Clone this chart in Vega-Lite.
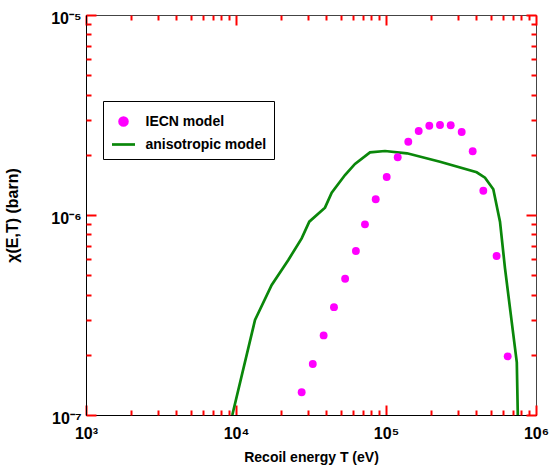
{
  "$schema": "https://vega.github.io/schema/vega-lite/v6.json",
  "width": 450,
  "height": 400,
  "autosize": {"type": "none"},
  "padding": {"left": 86, "top": 15, "right": 13, "bottom": 57},
  "background": "white",
  "config": {
    "font": "Liberation Sans",
    "view": {"stroke": "#444", "strokeWidth": 1},
    "axis": {
      "grid": false,
      "labelFont": "Liberation Sans",
      "labelFontSize": 16,
      "labelFontWeight": "bold",
      "labelColor": "black",
      "titleFont": "Liberation Sans",
      "titleFontSize": 14,
      "titleFontWeight": "bold",
      "titleColor": "black",
      "domainColor": "black",
      "tickColor": "red",
      "tickWidth": 2,
      "ticks": true
    }
  },
  "datasets": {
    "iecn": [
      {"T": 27400, "chi": 1.299e-7, "series": "IECN model"},
      {"T": 32500, "chi": 1.80e-7, "series": "IECN model"},
      {"T": 38400, "chi": 2.50e-7, "series": "IECN model"},
      {"T": 45000, "chi": 3.46e-7, "series": "IECN model"},
      {"T": 53400, "chi": 4.80e-7, "series": "IECN model"},
      {"T": 63000, "chi": 6.61e-7, "series": "IECN model"},
      {"T": 72400, "chi": 8.98e-7, "series": "IECN model"},
      {"T": 85400, "chi": 1.198e-6, "series": "IECN model"},
      {"T": 101100, "chi": 1.549e-6, "series": "IECN model"},
      {"T": 119700, "chi": 1.943e-6, "series": "IECN model"},
      {"T": 140800, "chi": 2.325e-6, "series": "IECN model"},
      {"T": 165200, "chi": 2.63e-6, "series": "IECN model"},
      {"T": 194400, "chi": 2.796e-6, "series": "IECN model"},
      {"T": 229100, "chi": 2.818e-6, "series": "IECN model"},
      {"T": 270000, "chi": 2.81e-6, "series": "IECN model"},
      {"T": 319600, "chi": 2.60e-6, "series": "IECN model"},
      {"T": 378400, "chi": 2.083e-6, "series": "IECN model"},
      {"T": 445400, "chi": 1.323e-6, "series": "IECN model"},
      {"T": 546200, "chi": 6.24e-7, "series": "IECN model"},
      {"T": 647500, "chi": 1.965e-7, "series": "IECN model"}
    ],
    "aniso": [
      {"T": 9450, "chi": 1.0e-7, "series": "anisotropic model"},
      {"T": 13390, "chi": 2.985e-7, "series": "anisotropic model"},
      {"T": 17300, "chi": 4.47e-7, "series": "anisotropic model"},
      {"T": 22330, "chi": 5.96e-7, "series": "anisotropic model"},
      {"T": 27400, "chi": 7.64e-7, "series": "anisotropic model"},
      {"T": 30810, "chi": 9.26e-7, "series": "anisotropic model"},
      {"T": 39200, "chi": 1.088e-6, "series": "anisotropic model"},
      {"T": 43450, "chi": 1.293e-6, "series": "anisotropic model"},
      {"T": 53300, "chi": 1.585e-6, "series": "anisotropic model"},
      {"T": 62130, "chi": 1.80e-6, "series": "anisotropic model"},
      {"T": 78230, "chi": 2.058e-6, "series": "anisotropic model"},
      {"T": 98470, "chi": 2.089e-6, "series": "anisotropic model"},
      {"T": 138000, "chi": 2.035e-6, "series": "anisotropic model"},
      {"T": 229100, "chi": 1.847e-6, "series": "anisotropic model"},
      {"T": 402400, "chi": 1.635e-6, "series": "anisotropic model"},
      {"T": 457100, "chi": 1.536e-6, "series": "anisotropic model"},
      {"T": 519200, "chi": 1.344e-6, "series": "anisotropic model"},
      {"T": 575400, "chi": 9.26e-7, "series": "anisotropic model"},
      {"T": 621400, "chi": 5.41e-7, "series": "anisotropic model"},
      {"T": 744700, "chi": 1.834e-7, "series": "anisotropic model"},
      {"T": 756300, "chi": 1.0e-7, "series": "anisotropic model"}
    ]
  },
  "layer": [
    {
      "data": {"name": "aniso"},
      "mark": {"type": "line", "strokeWidth": 2.7},
      "encoding": {
        "x": {
          "field": "T", "type": "quantitative",
          "scale": {"type": "log", "domain": [1000, 1000000], "nice": false},
          "axis": {
            "orient": "bottom", "title": "Recoil energy T (eV)", "domain": true,
            "values": [1000, 10000, 100000, 1000000], "tickSize": -10,
            "labelExpr": "datum.value == 1000 ? '10³' : datum.value == 10000 ? '10⁴' : datum.value == 100000 ? '10⁵' : '10⁶'",
            "labelOverlap": false, "labelFlush": false,
            "labelPadding": 20, "titlePadding": 9
          }
        },
        "y": {
          "field": "chi", "type": "quantitative",
          "scale": {"type": "log", "domain": [1e-7, 1e-5], "nice": false},
          "axis": {
            "orient": "left", "title": "χ(E,T) (barn)", "domain": true,
            "values": [1e-7, 1e-6, 1e-5], "tickSize": -10,
            "labelExpr": "datum.value == 1e-7 ? '10⁻⁷' : datum.value == 1e-6 ? '10⁻⁶' : '10⁻⁵'",
            "labelOverlap": false, "labelFlush": false,
            "labelPadding": 15, "labelOffset": 3, "titlePadding": 30, "titleFontSize": 16
          }
        },
        "color": {
          "field": "series", "type": "nominal",
          "scale": {"domain": ["IECN model", "anisotropic model"], "range": ["#ff00ff", "#0a870a"]},
          "legend": {
            "title": null, "orient": "none", "legendX": 17, "legendY": 86,
            "strokeColor": "black", "fillColor": "white", "padding": 7.5,
            "labelFont": "Liberation Sans", "labelFontSize": 14, "labelFontWeight": "bold", "labelColor": "black",
            "symbolSize": 529, "labelOffset": 9, "rowPadding": 0,
            "encode": {
              "symbols": {
                "update": {
                  "shape": {"signal": "datum.value === 'IECN model' ? 'circle' : 'stroke'"},
                  "size": {"signal": "datum.value === 'IECN model' ? 62 : 529"},
                  "fill": {"signal": "datum.value === 'IECN model' ? '#ff00ff' : 'transparent'"},
                  "stroke": {"signal": "datum.value === 'IECN model' ? 'transparent' : '#0a870a'"},
                  "strokeWidth": {"value": 2.7},
                  "opacity": {"value": 1}
                }
              }
            }
          }
        }
      }
    },
    {
      "data": {"name": "iecn"},
      "mark": {"type": "point", "filled": true, "size": 62, "opacity": 1, "shape": "circle"},
      "encoding": {
        "x": {
          "field": "T", "type": "quantitative",
          "scale": {"type": "log", "domain": [1000, 1000000], "nice": false},
          "axis": {
            "orient": "top", "offset": -400, "labels": false, "title": null, "domain": false,
            "values": [2000,3000,4000,5000,6000,7000,8000,9000,20000,30000,40000,50000,60000,70000,80000,90000,200000,300000,400000,500000,600000,700000,800000,900000], "tickSize": 5
          }
        },
        "y": {
          "field": "chi", "type": "quantitative",
          "scale": {"type": "log", "domain": [1e-7, 1e-5], "nice": false},
          "axis": {
            "orient": "right", "offset": -450, "labels": false, "title": null, "domain": false,
            "values": [2e-7,3e-7,4e-7,5e-7,6e-7,7e-7,8e-7,9e-7,2e-6,3e-6,4e-6,5e-6,6e-6,7e-6,8e-6,9e-6], "tickSize": 5
          }
        },
        "color": {
          "field": "series", "type": "nominal",
          "scale": {"domain": ["IECN model", "anisotropic model"], "range": ["#ff00ff", "#0a870a"]},
          "legend": {
            "title": null, "orient": "none", "legendX": 17, "legendY": 86,
            "strokeColor": "black", "fillColor": "white", "padding": 7.5,
            "labelFont": "Liberation Sans", "labelFontSize": 14, "labelFontWeight": "bold", "labelColor": "black",
            "symbolSize": 529, "labelOffset": 9, "rowPadding": 0,
            "encode": {
              "symbols": {
                "update": {
                  "shape": {"signal": "datum.value === 'IECN model' ? 'circle' : 'stroke'"},
                  "size": {"signal": "datum.value === 'IECN model' ? 62 : 529"},
                  "fill": {"signal": "datum.value === 'IECN model' ? '#ff00ff' : 'transparent'"},
                  "stroke": {"signal": "datum.value === 'IECN model' ? 'transparent' : '#0a870a'"},
                  "strokeWidth": {"value": 2.7},
                  "opacity": {"value": 1}
                }
              }
            }
          }
        }
      }
    },
    {
      "data": {"name": "iecn"},
      "mark": {"type": "point", "opacity": 0},
      "encoding": {
        "x": {
          "field": "T", "type": "quantitative",
          "scale": {"type": "log", "domain": [1000, 1000000], "nice": false},
          "axis": {
            "orient": "bottom", "offset": -400, "labels": false, "title": null, "domain": false,
            "values": [1000, 10000, 100000, 1000000], "tickSize": 10
          }
        },
        "y": {
          "field": "chi", "type": "quantitative",
          "scale": {"type": "log", "domain": [1e-7, 1e-5], "nice": false},
          "axis": {
            "orient": "left", "offset": -450, "labels": false, "title": null, "domain": false,
            "values": [1e-7, 1e-6, 1e-5], "tickSize": 10
          }
        }
      }
    },
    {
      "data": {"name": "iecn"},
      "mark": {"type": "point", "opacity": 0},
      "encoding": {
        "x": {
          "field": "T", "type": "quantitative",
          "scale": {"type": "log", "domain": [1000, 1000000], "nice": false},
          "axis": {
            "orient": "bottom", "offset": -400, "labels": false, "title": null, "domain": false,
            "values": [2000,3000,4000,5000,6000,7000,8000,9000,20000,30000,40000,50000,60000,70000,80000,90000,200000,300000,400000,500000,600000,700000,800000,900000], "tickSize": 5
          }
        },
        "y": {
          "field": "chi", "type": "quantitative",
          "scale": {"type": "log", "domain": [1e-7, 1e-5], "nice": false},
          "axis": {
            "orient": "left", "offset": -450, "labels": false, "title": null, "domain": false,
            "values": [2e-7,3e-7,4e-7,5e-7,6e-7,7e-7,8e-7,9e-7,2e-6,3e-6,4e-6,5e-6,6e-6,7e-6,8e-6,9e-6], "tickSize": 5
          }
        }
      }
    }
  ],
  "resolve": {"axis": {"x": "independent", "y": "independent"}}
}
